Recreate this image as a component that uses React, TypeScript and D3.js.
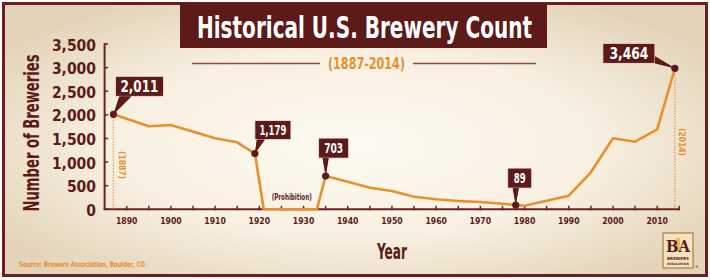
import React, { useEffect } from "react";
import * as d3 from "d3";

// ---- data ----
const years = [1887, 1895, 1900, 1910, 1915, 1919, 1921, 1933, 1935, 1940, 1945, 1950, 1955, 1960, 1965, 1970, 1975, 1978, 1980, 1990, 1995, 2000, 2005, 2010, 2014];
const breweries = [2011, 1757, 1785, 1503, 1419, 1179, 0, 0, 703, 584, 457, 387, 267, 212, 176, 155, 119, 89, 76, 288, 783, 1503, 1431, 1694, 2985];

const calloutYears = [1887, 1919, 1935, 1978, 2014];
const calloutTexts = ["2,011", "1,179", "703", "89", "3,464"];

const yTickValues = [0, 500, 1000, 1500, 2000, 2500, 3000, 3500];
const xTickValues = d3.range(1890, 2016, 5);
const xLabelYears = [1890, 1900, 1910, 1920, 1930, 1940, 1950, 1960, 1970, 1980, 1990, 2000, 2010];

const titleText = "Historical U.S. Brewery Count";
const subtitleText = "(1887-2014)";
const yAxisTitle = "Number of Breweries";
const xAxisTitle = "Year";
const sourceText = "Source: Brewers Association, Boulder, CO";
const prohibitionText = "(Prohibition)";

// ---- styling ----
const W = 710;
const H = 280;
const FONT = "'Liberation Sans Narrow', 'DejaVu Sans Condensed', 'Arial Narrow', sans-serif";
const MAROON = "#5c1a19";
const AXIS = "#6a2520";
const ORANGE = "#e8902e";

// callout layout: box offset from dot (dx, dy, w, h), text width, font, pointer base
const calloutLayout = [
  { dx: 2, dy: -38, w: 48, h: 20, tl: 38, fs: 16, p: [[6, -18], [18, -18]] },
  { dx: 0, dy: -33, w: 36, h: 19, tl: 27, fs: 14, p: [[2, -14], [10, -14]] },
  { dx: -7, dy: -38, w: 30, h: 20, tl: 19, fs: 14, p: [[-3, -18], [3, -18]] },
  { dx: -8, dy: -37, w: 24, h: 20, tl: 12, fs: 14, p: [[-3, -17], [3, -17]] },
  { dx: -72, dy: -25, w: 52, h: 20, tl: 39, fs: 16, p: [[-20, -12], [-20, -5]] },
];

export default function App() {
  useEffect(() => {
    document.body.style.margin = "0";
  }, []);

  const x = d3.scaleLinear().domain([1885, 2015]).range([104.6, 679.3]);
  const y = d3.scaleLinear().domain([0, 3500]).range([209.3, 44]);

  const line = d3
    .line<number>()
    .x((_, i) => x(years[i]))
    .y((d) => y(d));

  const valueAt = (yr: number) => breweries[years.indexOf(yr)];

  return (
    <div style={{ position: "absolute", left: 0, top: 0 }}>
      <svg width={W} height={H} viewBox={`0 0 ${W} ${H}`} style={{ display: "block" }}>
        <defs>
          <radialGradient id="bg" cx="50%" cy="52%" r="62%">
            <stop offset="0%" stopColor="#fdfaf2" />
            <stop offset="55%" stopColor="#f8f0e1" />
            <stop offset="100%" stopColor="#e3d3b8" />
          </radialGradient>
        </defs>
        <rect x={0} y={0} width={W} height={H} fill="#ffffff" />
        <rect x={3.5} y={3.5} width={703} height={272} fill="url(#bg)" stroke="#6b1f1f" strokeWidth={3} />

        {/* title */}
        <rect x={180} y={3} width={367} height={45} fill={MAROON} />
        <text
          x={364.5}
          y={37.5}
          textAnchor="middle"
          fill="#ffffff"
          fontFamily={FONT}
          fontWeight="bold"
          fontSize={31}
          textLength={335}
          lengthAdjust="spacingAndGlyphs"
        >
          {titleText}
        </text>

        {/* subtitle */}
        <line x1={192} x2={320} y1={63.5} y2={63.5} stroke="#8a4d3e" strokeWidth={1.6} />
        <line x1={413} x2={536} y1={63.5} y2={63.5} stroke="#8a4d3e" strokeWidth={1.6} />
        <text
          x={366.5}
          y={68.5}
          textAnchor="middle"
          fill={ORANGE}
          fontFamily={FONT}
          fontWeight="bold"
          fontSize={15}
          textLength={77}
          lengthAdjust="spacingAndGlyphs"
        >
          {subtitleText}
        </text>

        {/* y axis title */}
        <text
          transform={`translate(39,133) rotate(-90) scale(1,1.2)`}
          textAnchor="middle"
          fill={MAROON}
          fontFamily={FONT}
          fontWeight="bold"
          fontSize={18}
          textLength={157}
          lengthAdjust="spacingAndGlyphs"
        >
          {yAxisTitle}
        </text>

        {/* y axis */}
        <line x1={x(1885)} x2={x(1885)} y1={y(3500) - 1} y2={y(0)} stroke={AXIS} strokeWidth={2} />
        {yTickValues.map((v) => (
          <g key={v}>
            <line x1={x(1885)} x2={x(1885) + 3.5} y1={y(v)} y2={y(v)} stroke={AXIS} strokeWidth={1.5} />
            <text
              x={96}
              y={y(v) + 6.5}
              textAnchor="end"
              fill={MAROON}
              fontFamily={FONT}
              fontWeight="bold"
              fontSize={15.5}
            >
              {d3.format(",")(v)}
            </text>
          </g>
        ))}

        {/* x axis */}
        <line x1={x(1885) - 1} x2={x(2015)} y1={y(0)} y2={y(0)} stroke={AXIS} strokeWidth={2} />
        {xTickValues.map((t) => (
          <line key={t} x1={x(t)} x2={x(t)} y1={y(0) - 3.5} y2={y(0) + 1} stroke={AXIS} strokeWidth={1.5} />
        ))}
        {xLabelYears.map((t) => (
          <text
            key={t}
            x={x(t)}
            y={223.6}
            textAnchor="middle"
            fill={MAROON}
            fontFamily={FONT}
            fontWeight="bold"
            fontSize={8.6}
          >
            {t}
          </text>
        ))}
        <text
          x={392}
          y={258.5}
          textAnchor="middle"
          fill={MAROON}
          fontFamily={FONT}
          fontWeight="bold"
          fontSize={21}
          textLength={30}
          lengthAdjust="spacingAndGlyphs"
        >
          {xAxisTitle}
        </text>

        {/* dotted year markers */}
        <line
          x1={x(1887)}
          x2={x(1887)}
          y1={y(valueAt(1887))}
          y2={y(0)}
          stroke={ORANGE}
          strokeWidth={1.3}
          strokeDasharray="1.3 1.7"
        />
        <line
          x1={x(2014)}
          x2={x(2014)}
          y1={y(valueAt(2014))}
          y2={y(0)}
          stroke={ORANGE}
          strokeWidth={1.3}
          strokeDasharray="1.3 1.7"
        />
        <text
          transform={`translate(${x(1887) + 6},165) rotate(90)`}
          textAnchor="middle"
          fill={ORANGE}
          fontFamily={FONT}
          fontWeight="bold"
          fontSize={8.5}
          textLength={28}
          lengthAdjust="spacingAndGlyphs"
        >
          {"(1887)"}
        </text>
        <text
          transform={`translate(${x(2014) + 4},142) rotate(90)`}
          textAnchor="middle"
          fill={ORANGE}
          fontFamily={FONT}
          fontWeight="bold"
          fontSize={8.5}
          textLength={28}
          lengthAdjust="spacingAndGlyphs"
        >
          {"(2014)"}
        </text>

        {/* prohibition */}
        <text
          x={291.7}
          y={199.8}
          textAnchor="middle"
          fill={MAROON}
          fontFamily={FONT}
          fontWeight="bold"
          fontSize={8.8}
          textLength={40}
          lengthAdjust="spacingAndGlyphs"
        >
          {prohibitionText}
        </text>

        {/* data line */}
        <path d={line(breweries) || ""} fill="none" stroke={ORANGE} strokeWidth={2.6} strokeLinejoin="round" />

        {/* callouts */}
        {calloutYears.map((yr, i) => {
          const cx = x(yr);
          const cy = y(valueAt(yr));
          const L = calloutLayout[i];
          const bx = cx + L.dx;
          const by = cy + L.dy;
          const pts = [[cx + L.p[0][0], cy + L.p[0][1]], [cx + L.p[1][0], cy + L.p[1][1]], [cx, cy]]
            .map((p) => p.join(","))
            .join(" ");
          return (
            <g key={yr}>
              <polygon points={pts} fill={MAROON} />
              <rect x={bx} y={by} width={L.w} height={L.h} fill={MAROON} stroke="#f3e9d6" strokeWidth={0.8} />
              <polygon points={pts} fill={MAROON} />
              <text
                x={bx + L.w / 2}
                y={by + L.h / 2 + L.fs * 0.36}
                textAnchor="middle"
                fill="#ffffff"
                fontFamily={FONT}
                fontWeight="bold"
                fontSize={L.fs}
                textLength={L.tl}
                lengthAdjust="spacingAndGlyphs"
              >
                {calloutTexts[i]}
              </text>
              <circle cx={cx} cy={cy} r={3.6} fill={MAROON} />
            </g>
          );
        })}

        {/* source */}
        <text
          x={19}
          y={266.5}
          fill={ORANGE}
          fontFamily={FONT}
          fontWeight="bold"
          fontSize={7.6}
          textLength={126}
          lengthAdjust="spacingAndGlyphs"
        >
          {sourceText}
        </text>

        {/* BA logo */}
        <g>
          <rect x={663} y={233} width={30} height={35} fill="#f4e3bf" stroke="#b07a3a" strokeWidth={1.2} />
          <rect x={676} y={238} width={4} height={13} fill="#e8b43a" opacity={0.8} />
          <text
            x={678}
            y={251.5}
            textAnchor="middle"
            fill={MAROON}
            fontFamily="'DejaVu Serif', serif"
            fontWeight="bold"
            fontSize={16}
            textLength={24}
            lengthAdjust="spacingAndGlyphs"
          >
            BA
          </text>
          <text x={678} y={259.8} textAnchor="middle" fill={MAROON} fontFamily={FONT} fontWeight="bold" fontSize={4} textLength={22} lengthAdjust="spacingAndGlyphs">
            BREWERS
          </text>
          <text x={678} y={265} textAnchor="middle" fill={MAROON} fontFamily={FONT} fontWeight="bold" fontSize={3.2} textLength={22} lengthAdjust="spacingAndGlyphs">
            ASSOCIATION
          </text>
          <text x={695} y={268} fill={MAROON} fontFamily={FONT} fontSize={3.5}>
            ®
          </text>
        </g>
      </svg>
    </div>
  );
}
